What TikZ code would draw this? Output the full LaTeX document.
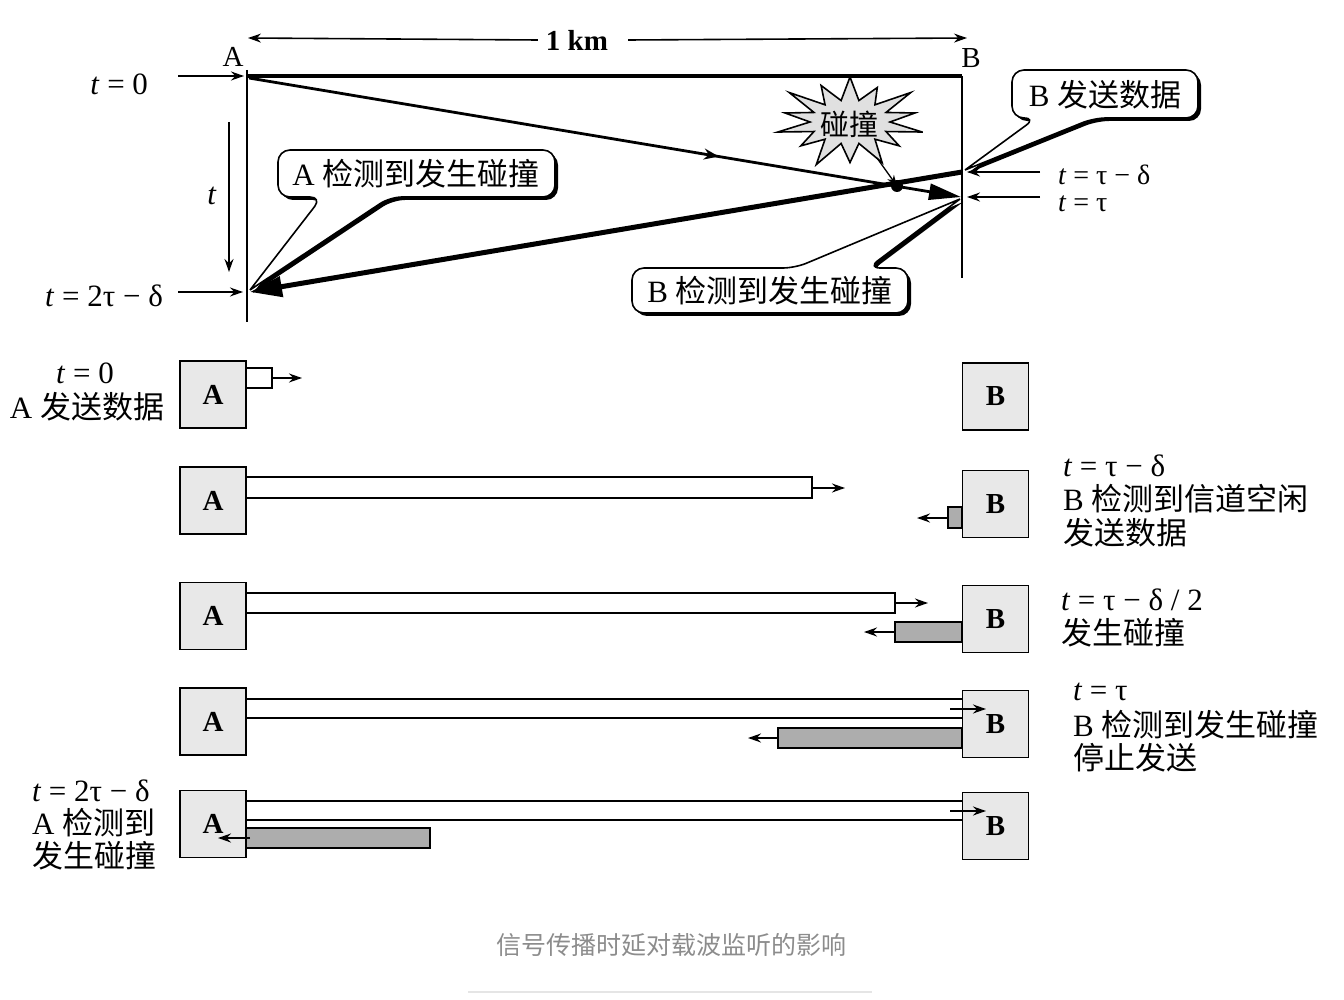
\documentclass[tikz,border=0pt]{standalone}
\usepackage{fontspec}
\setmainfont{Liberation Serif}
\newfontfamily\cjk{Noto Sans CJK SC}
\usetikzlibrary{arrows.meta,decorations.markings}
\begin{document}
\begin{tikzpicture}[x=1pt,y=-1pt,
  every node/.style={inner sep=0pt,outer sep=0pt},
  sarr/.style={-{Stealth[length=13pt,width=9pt]},line width=1.6pt},
  station/.style={draw,line width=1.6pt,fill=black!9,minimum width=66pt,minimum height=67pt,font=\fontsize{29}{29}\selectfont\bfseries},
  wbar/.style={draw,line width=1.6pt,fill=white},
  gbar/.style={draw,line width=1.6pt,fill=black!32},
  lbl/.style={font=\fontsize{31}{31}\selectfont},
  bub/.style={fill=white,draw,line width=1.6pt,rounded corners=12pt},
  bubshadow/.style={fill=black,rounded corners=12pt,shift={(3,3)}},
]
\useasboundingbox (0,0) rectangle (1344,1000);

% ---------- top diagram ----------
\coordinate (A0) at (247,76);
\coordinate (B0) at (962,76);
\node[lbl,font=\fontsize{29}{29}\selectfont] (Alab) at (233,57) {A};
\node[lbl,font=\fontsize{29}{29}\selectfont] (Blab) at (971,58) {B};
\node[lbl,font=\fontsize{29}{29}\selectfont\bfseries] (km) at (577,40) {1 km};
\coordinate (kmL) at (248,38);
\coordinate (kmR) at (967,38);
\draw[sarr] ([xshift=-8pt]km.west) -- (kmL);
\draw[sarr] ([xshift=20pt]km.east) -- (kmR);

\draw[line width=3.5pt] (A0) -- (B0);
\draw[line width=2pt] (247,70) -- (247,322);
\draw[line width=2pt] (962,76) -- (962,278);

\node[lbl,anchor=east] (t0) at (148,84) {\textit{t} = 0};
\coordinate (t0e) at (244,76);
\draw[sarr] (178,76) -- (t0e);
\node[lbl,anchor=east] (t2) at (163,296) {\textit{t} = 2τ − δ};
\coordinate (t2e) at (243,292);
\draw[sarr] (178,292) -- (t2e);
\coordinate (ttop) at (229,122);
\coordinate (tbot) at (229,272);
\draw[sarr] (ttop) -- (tbot);
\node[lbl] (tt) at (212,196) {\textit{t}};

\node[lbl,anchor=west,font=\fontsize{28}{28}\selectfont] (tr1) at (1058,175) {\textit{t} = τ − δ};
\node[lbl,anchor=west,font=\fontsize{28}{28}\selectfont] (tr2) at (1058,204) {\textit{t} = τ};
\coordinate (Bsend) at (962,172);
\coordinate (Barr) at (961,197);
\draw[sarr] (1040,172) -- (967,172);
\draw[sarr] (1040,197) -- (967,197);

% star
\draw[line width=1.6pt,fill=black!12]
  ({850+74*cos(12.86)},{122+45*sin(12.86)})
  \foreach \k/\s in {1/0.85,2/1.0,3/0.9,4/1.05,5/0.85,6/1.0,7/0.9,8/1.05,9/0.9,10/1.0,11/0.85,12/1.05,13/0.9,14/1.0}
  { -- ({850+40*cos(12.86+(\k-0.5)*25.714)},{122+22*sin(12.86+(\k-0.5)*25.714)})
    -- ({850+74*\s*cos(12.86+\k*25.714)},{122+45*\s*sin(12.86+\k*25.714)}) }
  -- cycle;
\node[lbl,font=\fontsize{29}{29}\selectfont\cjk] (coll) at (849,124) {碰撞};

% bubbles
\fill[bubshadow] (250,290) -- (322,197) -- (278,197) -- (278,150) -- (555,150) -- (555,197) -- (390,197) -- (250,290);
\path[bub] (250,290) -- (322,197) -- (278,197) -- (278,150) -- (555,150) -- (555,197) -- (390,197) -- (250,290);
\node[lbl] (bubA) at (416,174) {A {\cjk 检测到发生碰撞}};

\fill[bubshadow] (965,170) -- (1094,118) -- (1198,118) -- (1198,70) -- (1012,70) -- (1012,118) -- (1036,118) -- (965,170);
\path[bub] (965,170) -- (1094,118) -- (1198,118) -- (1198,70) -- (1012,70) -- (1012,118) -- (1036,118) -- (965,170);
\node[lbl] (bubBs) at (1105,95) {B {\cjk 发送数据}};

\fill[bubshadow] (960,199) -- (795,268) -- (632,268) -- (632,313) -- (908,313) -- (908,268) -- (868,268) -- (960,199);
\path[bub] (960,199) -- (795,268) -- (632,268) -- (632,313) -- (908,313) -- (908,268) -- (868,268) -- (960,199);
\node[lbl] (bubBd) at (770,291) {B {\cjk 检测到发生碰撞}};

% signals
\coordinate (Asend) at (249,78);
\coordinate (Aarr) at (250,292);
\draw[line width=2.8pt,-{Triangle[length=32pt,width=16pt]},
  postaction={decorate},
  decoration={markings,mark=at position 0.66 with {\arrow{Stealth[length=15pt,width=11pt]}}}]
  (Asend) -- (Barr);
\draw[line width=5pt,-{Triangle[length=32pt,width=20pt]}] (Bsend) -- (Aarr);
\coordinate (hit) at (897,186);
\fill (hit) circle (6pt);
\draw[line width=1.3pt,-{Stealth[length=11pt,width=8pt]}] (877,158) -- (hit);

% ---------- bottom rows ----------
\node[station] (A1) at (213,394.5) {A};
\node[station] (B1) at (995.5,396.5) {B};
\node[station] (A2) at (213,500.5) {A};
\node[station] (B2) at (995.5,504) {B};
\node[station] (A3) at (213,616) {A};
\node[station] (B3) at (995.5,619) {B};
\node[station] (A4) at (213,721.5) {A};
\node[station] (B4) at (995.5,724) {B};
\node[station] (A5) at (213,824) {A};
\node[station] (B5) at (995.5,826) {B};

% row 1
\draw[wbar] (246,368) rectangle (272,388);
\draw[sarr] (272,378) -- (302,378);
\node[lbl] (r1a) at (85,373) {\textit{t} = 0};
\node[lbl] (r1b) at (87,407) {A {\cjk 发送数据}};

% row 2
\draw[wbar] (246,477) rectangle (812,498);
\draw[sarr] (812,488) -- (845,488);
\draw[gbar] (948,507) rectangle (962,528);
\draw[sarr] (948,518) -- (917,518);
\node[lbl,anchor=west] (r2a) at (1063,466) {\textit{t} = τ − δ};
\node[lbl,anchor=west] (r2b) at (1063,499) {B {\cjk 检测到信道空闲}};
\node[lbl,anchor=west] (r2c) at (1063,533) {\cjk 发送数据};

% row 3
\draw[wbar] (246,593) rectangle (895,613);
\draw[sarr] (895,603) -- (928,603);
\draw[gbar] (895,622) rectangle (962,642);
\draw[sarr] (895,632) -- (864,632);
\node[lbl,anchor=west] (r3a) at (1061,600) {\textit{t} = τ − δ / 2};
\node[lbl,anchor=west] (r3b) at (1061,633) {\cjk 发生碰撞};

% row 4
\draw[line width=1.6pt] (246,699) -- (962,699);
\draw[line width=1.6pt] (246,718) -- (962,718);
\draw[sarr] (950,709) -- (986,709);
\draw[gbar] (778,728) rectangle (962,748);
\draw[sarr] (778,738) -- (748,738);
\node[lbl,anchor=west] (r4a) at (1073,692) {\textit{t} = τ};
\node[lbl,anchor=west] (r4b) at (1073,725) {B {\cjk 检测到发生碰撞}};
\node[lbl,anchor=west] (r4c) at (1073,758) {\cjk 停止发送};

% row 5
\draw[line width=1.6pt] (246,801) -- (962,801);
\draw[line width=1.6pt] (246,820) -- (962,820);
\draw[sarr] (950,811) -- (986,811);
\draw[gbar] (246,828) rectangle (430,848);
\draw[sarr] (250,838) -- (218,838);
\node[lbl,anchor=west] (r5a) at (32,791) {\textit{t} = 2τ − δ};
\node[lbl,anchor=west] (r5b) at (32,823) {A {\cjk 检测到}};
\node[lbl,anchor=west] (r5c) at (32,856) {\cjk 发生碰撞};

% caption
\node[font=\fontsize{25}{25}\selectfont\cjk,text=black!45] (cap) at (671,945) {信号传播时延对载波监听的影响};
\draw[black!10,line width=2pt] (468,992) -- (872,992);
\end{tikzpicture}
\end{document}
